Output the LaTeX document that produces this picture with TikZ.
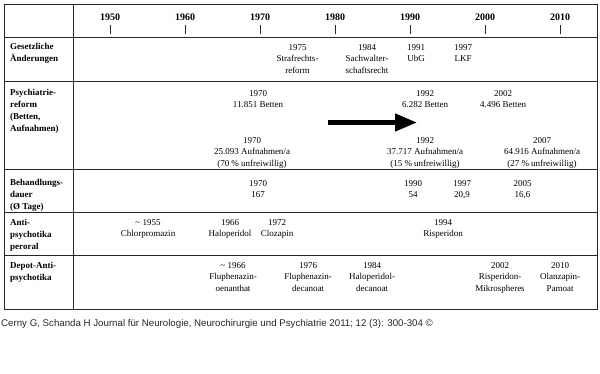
\documentclass[tikz,border=0pt]{standalone}
\usepackage{fontspec}
\setmainfont{Liberation Serif}
\newfontfamily\footfont{Liberation Sans}
\usetikzlibrary{arrows.meta}

\begin{document}
\begin{tikzpicture}[x=1pt,y=-1pt,
  frame/.style={line width=1pt,draw=black!85},
  yearlbl/.style={font=\fontsize{10}{12}\selectfont\bfseries,anchor=base,inner sep=0pt},
  rowlbl/.style={font=\fontsize{9}{11.8}\selectfont\bfseries,align=left,anchor=north west,inner sep=0pt},
  entry/.style={font=\fontsize{9}{11.5}\selectfont,align=center,anchor=north,inner sep=0pt},
  trend/.style={line width=4.5pt,-{Triangle[length=22pt,width=17pt]}}
  ]
\def\xzero{110}   % x of 1950
\def\pxyear{7.5}  % per year
\newcommand{\xof}[1]{\xzero+\pxyear*(#1-1950)}
\useasboundingbox (0,0) rectangle (600,374);
% table frame
\draw[frame] (4,5) rectangle (597,309);
\draw[frame] (73,5) -- (73,309);
\foreach \yy in {38,82,170,213,256}
  \draw[frame] (4,\yy) -- (597,\yy);
% time axis
\foreach \yr in {1950,1960,...,2010}{
  \node[yearlbl] (y\yr) at ({\xof{\yr}},20.5) {\yr};
  \draw[frame] ({\xof{\yr}},25) -- ({\xof{\yr}},34);
}
% row labels
\node[rowlbl] (lgesetz) at (10,43) {Gesetzliche\\Änderungen};
\node[rowlbl] (lreform) at (10,89.5) {Psychiatrie-\\reform\\(Betten,\\Aufnahmen)};
\node[rowlbl] (ldauer)  at (10,179.5) {Behandlungs-\\dauer\\(Ø Tage)};
\node[rowlbl] (lperoral) at (10,219) {Anti-\\psychotika\\peroral};
\node[rowlbl] (ldepot)  at (10,262.5) {Depot-Anti-\\psychotika};
% Gesetzliche Aenderungen
\node[entry] (strafrecht) at ({\xof{1975}},44) {1975\\Strafrechts-\\reform};
\node[entry] (sachwalter) at (367,44) {1984\\Sachwalter-\\schaftsrecht};
\node[entry] (ubg) at (416,44) {1991\\UbG};
\node[entry] (lkf) at (463,44) {1997\\LKF};
% Psychiatriereform
\node[entry] (bett70) at (258,90) {1970\\11.851 Betten};
\node[entry] (bett92) at (425,90) {1992\\6.282 Betten};
\node[entry] (bett02) at (503,90) {2002\\4.496 Betten};
\node[entry] (aufn70) at (252,137) {1970\\25.093 Aufnahmen/a\\(70 \% unfreiwillig)};
\node[entry] (aufn92) at (425,137) {1992\\37.717 Aufnahmen/a\\(15 \% unfreiwillig)};
\node[entry] (aufn07) at (542,137) {2007\\64.916 Aufnahmen/a\\(27 \% unfreiwillig)};
\coordinate (trendA) at (328,122.5);
\coordinate (trendB) at (417,122.5);
\draw[trend] (trendA) -- (trendB);
% Behandlungsdauer
\node[entry] (dauer70) at (258,180) {1970\\167};
\node[entry] (dauer90) at (413,180) {1990\\54};
\node[entry] (dauer97) at (462,180) {1997\\20,9};
\node[entry] (dauer05) at ({\xof{2005}},180) {2005\\16,6};
% Antipsychotika peroral
\node[entry] (chlor) at (148,219) {\textasciitilde\ 1955\\Chlorpromazin};
\node[entry] (halo) at ({\xof{1966}},219) {1966\\Haloperidol};
\node[entry] (cloza) at (277,219) {1972\\Clozapin};
\node[entry] (risp) at (443,219) {1994\\Risperidon};
% Depot-Antipsychotika
\node[entry] (flu66) at (233,262) {\textasciitilde\ 1966\\Fluphenazin-\\oenanthat};
\node[entry] (flu76) at (308,262) {1976\\Fluphenazin-\\decanoat};
\node[entry] (halodec) at (372,262) {1984\\Haloperidol-\\decanoat};
\node[entry] (rispmik) at ({\xof{2002}},262) {2002\\Risperidon-\\Mikrospheres};
\node[entry] (olanz) at (560,262) {2010\\Olanzapin-\\Pamoat};
% source line
\node[font=\footfont\fontsize{9.7}{12}\selectfont,anchor=base west,inner sep=0pt,text=black!85] (quelle) at (1,326)
  {Cerny G, Schanda H Journal für Neurologie, Neurochirurgie und Psychiatrie 2011; 12 (3): 300-304 ©};
\end{tikzpicture}
\end{document}
